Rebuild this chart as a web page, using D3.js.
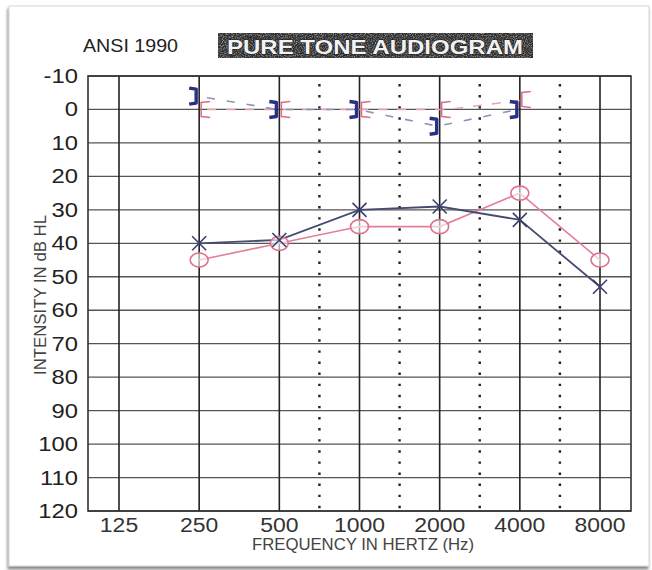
<!DOCTYPE html>
<html>
<head>
<meta charset="utf-8">
<script src="https://cdn.jsdelivr.net/npm/d3@7"></script>
<style>
  body { margin: 0; background: #fff; }
  svg { display: block; }
</style>
</head>
<body>
<div class="chart"></div>
<script>
const WIDTH = 652;
const HEIGHT = 570;

// frequencies (Hz) and inter-octave dotted lines
const freqs = [125, 250, 500, 1000, 2000, 4000, 8000];
const freqLabels = ["125", "250", "500", "1000", "2000", "4000", "8000"];
const midFreqs = [750, 1500, 3000, 6000];
const dbTicks = [-10, 0, 10, 20, 30, 40, 50, 60, 70, 80, 90, 100, 110, 120];

// air conduction thresholds (dB HL)
const acFreqs = [250, 500, 1000, 2000, 4000, 8000];
const leftAir = [40, 39, 30, 29, 33, 53];   // blue X
const rightAir = [45, 40, 35, 35, 25, 45];  // red O

// bone conduction thresholds (dB HL)
const bcFreqs = [250, 500, 1000, 2000, 4000];
const leftBone = [-4, 0, 0, 5, 0];   // blue ]
const rightBone = [0, 0, 0, 0, -3];  // red [

const plot = { left: 88, right: 631, top: 76, bottom: 511 };
const FONT = "Liberation Sans, Arial, sans-serif";

const svg = d3.select(".chart")
  .append("svg")
  .attr("width", WIDTH)
  .attr("height", HEIGHT);

const defs = svg.append("defs");

const shadow = defs.append("filter").attr("id", "shadow")
  .attr("x", "-5%").attr("y", "-5%").attr("width", "110%").attr("height", "110%");
shadow.append("feDropShadow")
  .attr("dx", -1).attr("dy", 3).attr("stdDeviation", 1.5)
  .attr("flood-color", "#555").attr("flood-opacity", 0.7);

const grain = defs.append("filter").attr("id", "grain");
grain.append("feTurbulence")
  .attr("type", "fractalNoise").attr("baseFrequency", 0.9).attr("numOctaves", 2).attr("seed", 3);
grain.append("feColorMatrix")
  .attr("type", "matrix")
  .attr("values", "0 0 0 0 0.35  0 0 0 0 0.35  0 0 0 0 0.35  0 0 0 -2.2 1.3");
grain.append("feComposite").attr("in2", "SourceGraphic").attr("operator", "in");

// card
svg.append("rect")
  .attr("x", 9).attr("y", 6)
  .attr("width", 640).attr("height", 560)
  .attr("fill", "#fff")
  .attr("stroke", "#d6d6d6")
  .attr("filter", "url(#shadow)");

// scales: log2 frequency, frame reaches ~0.39 octave past 125 / 8000
const x = d3.scaleLog().base(2)
  .domain([125, 8000])
  .range([119, 600]);
const y = d3.scaleLinear()
  .domain([-10, 120])
  .range([plot.top, plot.bottom]);

// heading
svg.append("text")
  .attr("x", 83).attr("y", 52)
  .attr("textLength", 95)
  .attr("lengthAdjust", "spacingAndGlyphs")
  .attr("font-family", FONT)
  .attr("font-size", 18)
  .attr("fill", "#222")
  .text("ANSI 1990");

svg.append("rect")
  .attr("x", 218).attr("y", 33)
  .attr("width", 315).attr("height", 25)
  .attr("fill", "#2e2e2e");
svg.append("rect")
  .attr("x", 218).attr("y", 33)
  .attr("width", 315).attr("height", 25)
  .attr("fill", "#fff")
  .attr("filter", "url(#grain)");
svg.append("text")
  .attr("x", 227).attr("y", 54)
  .attr("textLength", 296)
  .attr("lengthAdjust", "spacingAndGlyphs")
  .attr("font-family", FONT)
  .attr("font-weight", "bold")
  .attr("font-size", 21)
  .attr("fill", "#f2f2f2")
  .attr("stroke", "#1a1a1a")
  .attr("stroke-width", 0.9)
  .attr("paint-order", "stroke")
  .text("PURE TONE AUDIOGRAM");

// grid
const grid = svg.append("g");

grid.selectAll("line.h")
  .data(dbTicks)
  .join("line")
  .attr("class", "h")
  .attr("x1", plot.left).attr("x2", plot.right)
  .attr("y1", d => y(d)).attr("y2", d => y(d))
  .attr("stroke", "#555")
  .attr("stroke-width", 1.3);

grid.selectAll("line.v")
  .data(freqs)
  .join("line")
  .attr("class", "v")
  .attr("x1", d => x(d)).attr("x2", d => x(d))
  .attr("y1", plot.top).attr("y2", plot.bottom)
  .attr("stroke", "#222")
  .attr("stroke-width", 1.6);

// dotted inter-octave lines sit at the geometric middle of each octave
grid.selectAll("line.m")
  .data(midFreqs)
  .join("line")
  .attr("class", "m")
  .attr("x1", (d, i) => x(Math.sqrt(freqs[i + 2] * freqs[i + 3])))
  .attr("x2", (d, i) => x(Math.sqrt(freqs[i + 2] * freqs[i + 3])))
  .attr("y1", plot.top + 8).attr("y2", plot.bottom)
  .attr("stroke", "#222")
  .attr("stroke-width", 2.4)
  .attr("stroke-dasharray", "2.4,8.7");

grid.append("rect")
  .attr("x", plot.left).attr("y", plot.top)
  .attr("width", plot.right - plot.left)
  .attr("height", plot.bottom - plot.top)
  .attr("fill", "none")
  .attr("stroke", "#333")
  .attr("stroke-width", 1.6);

// tick labels (the printed digits are a bit wider than Arial)
svg.append("g")
  .selectAll("text")
  .data(dbTicks)
  .join("text")
  .attr("transform", d => `translate(78,${y(d) + 7}) scale(1.22,1)`)
  .attr("text-anchor", "end")
  .attr("font-family", FONT)
  .attr("font-size", 19.5)
  .attr("fill", "#222")
  .text(d => d);

svg.append("g")
  .selectAll("text")
  .data(freqs)
  .join("text")
  .attr("transform", d => `translate(${x(d)},532) scale(1.12,1)`)
  .attr("text-anchor", "middle")
  .attr("font-family", FONT)
  .attr("font-size", 20.5)
  .attr("fill", "#333")
  .text((d, i) => freqLabels[i]);

svg.append("text")
  .attr("x", 363).attr("y", 550)
  .attr("text-anchor", "middle")
  .attr("textLength", 222)
  .attr("lengthAdjust", "spacingAndGlyphs")
  .attr("font-family", FONT)
  .attr("font-size", 16)
  .attr("fill", "#444")
  .text("FREQUENCY IN HERTZ (Hz)");

svg.append("text")
  .attr("transform", "translate(46,295) rotate(-90)")
  .attr("text-anchor", "middle")
  .attr("textLength", 160)
  .attr("lengthAdjust", "spacingAndGlyphs")
  .attr("font-family", FONT)
  .attr("font-size", 16)
  .attr("fill", "#444")
  .text("INTENSITY IN dB HL");

// bone conduction: dashed connectors then bracket symbols
const leftBC = bcFreqs.map((f, i) => ({ f, v: leftBone[i] }));
const rightBC = bcFreqs.map((f, i) => ({ f, v: rightBone[i] }));

const bcLine = (dx) => d3.line()
  .x(d => x(d.f) + dx)
  .y(d => y(d.v));

svg.append("path")
  .datum(rightBC)
  .attr("d", bcLine(8))
  .attr("fill", "none")
  .attr("stroke", "#e9a0b4")
  .attr("stroke-width", 1.4)
  .attr("stroke-dasharray", "9,10");

svg.append("path")
  .datum(leftBC)
  .attr("d", bcLine(-2))
  .attr("fill", "none")
  .attr("stroke", "#8f93b3")
  .attr("stroke-width", 1.6)
  .attr("stroke-dasharray", "8,12")
  .attr("stroke-dashoffset", -10);

svg.append("g")
  .selectAll("path")
  .data(rightBC)
  .join("path")
  .attr("transform", d => `translate(${x(d.f) + 2},${y(d.v)})`)
  .attr("d", "M9,-8 L0,-7 L0,7 L9,8")
  .attr("fill", "none")
  .attr("stroke", "#e06a8a")
  .attr("stroke-width", 1.5);

svg.append("g")
  .selectAll("path")
  .data(leftBC)
  .join("path")
  .attr("transform", d => `translate(${x(d.f) - 3},${y(d.v)})`)
  .attr("d", "M-7,-8 L0,-7 L0,7 L-7,8")
  .attr("fill", "none")
  .attr("stroke", "#2b2f86")
  .attr("stroke-width", 3.4)
  .attr("stroke-linejoin", "round");

// air conduction
const leftAC = acFreqs.map((f, i) => ({ f, v: leftAir[i] }));
const rightAC = acFreqs.map((f, i) => ({ f, v: rightAir[i] }));

const acLine = d3.line()
  .x(d => x(d.f))
  .y(d => y(d.v));

svg.append("path")
  .datum(rightAC)
  .attr("d", acLine)
  .attr("fill", "none")
  .attr("stroke", "#e47f97")
  .attr("stroke-width", 1.6);

svg.append("path")
  .datum(leftAC)
  .attr("d", acLine)
  .attr("fill", "none")
  .attr("stroke", "#474b72")
  .attr("stroke-width", 1.8);

svg.append("g")
  .selectAll("ellipse")
  .data(rightAC)
  .join("ellipse")
  .attr("cx", d => x(d.f))
  .attr("cy", d => y(d.v))
  .attr("rx", 9)
  .attr("ry", 7)
  .attr("fill", "#fff")
  .attr("fill-opacity", 0.6)
  .attr("stroke", "#e0708c")
  .attr("stroke-width", 1.6);

svg.append("g")
  .selectAll("path")
  .data(leftAC)
  .join("path")
  .attr("transform", d => `translate(${x(d.f)},${y(d.v)})`)
  .attr("d", "M-7,-7 L7,7 M7,-7 L-7,7")
  .attr("stroke", "#3a3e6c")
  .attr("stroke-width", 1.6);
</script>
</body>
</html>
